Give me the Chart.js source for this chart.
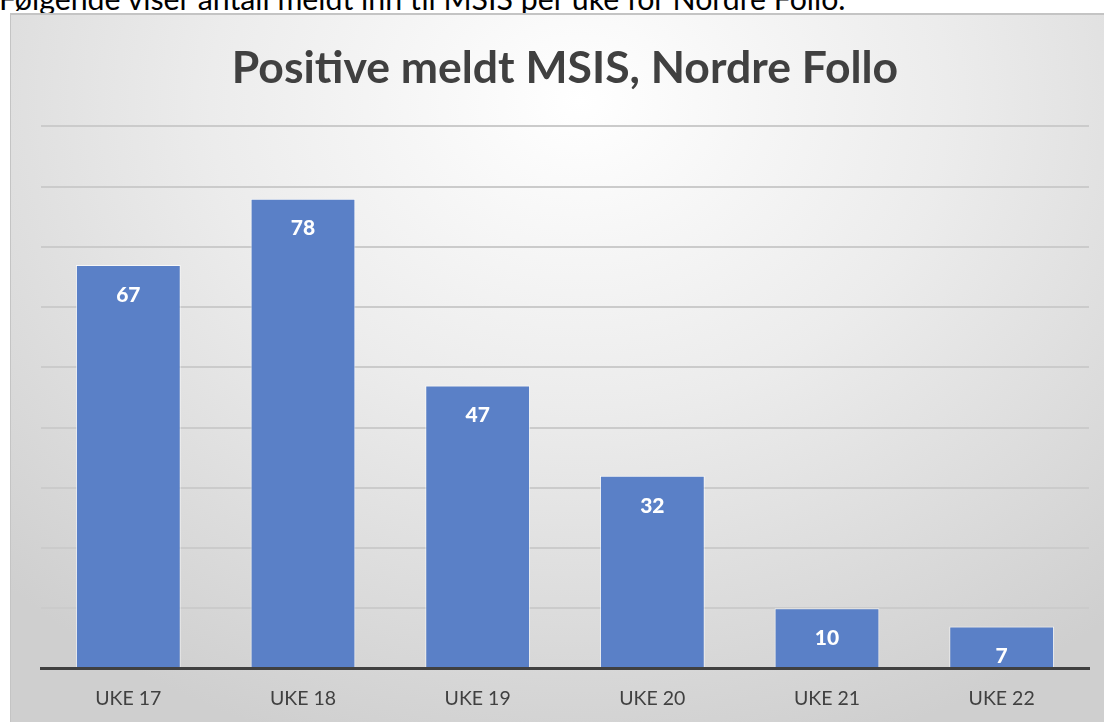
<!DOCTYPE html>
<html>
<head>
<meta charset="utf-8">
<script src="https://cdn.jsdelivr.net/npm/chart.js@4/dist/chart.umd.min.js"></script>
<style>
  html, body { margin: 0; padding: 0; background: #fff; overflow: hidden; }
  #caption {
    position: absolute; left: -1px; top: -17px;
    font-family: Lato, "Open Sans", sans-serif; font-size: 30.3px; line-height: 30px;
    color: #000; white-space: nowrap;
  }
  #box {
    position: absolute; left: 10px; top: 13px; width: 1094px; height: 717px;
    border-top: 2px solid #c4c4c4; border-left: 1px solid #c4c4c4; box-sizing: border-box;
    background: radial-gradient(ellipse 75% 95% at 52% 12%, #ffffff 0%, #ececec 45%, #cfcfcf 100%);
  }
  #wrap { position: absolute; left: 0; top: 0; width: 1093px; height: 713px; }
</style>
</head>
<body>
<div id="caption">Følgende viser antall meldt inn til MSIS per uke for Nordre Follo.</div>
<div id="box"><div id="wrap"><canvas id="myChart"></canvas></div></div>
<script>
const weeks = ['UKE 17', 'UKE 18', 'UKE 19', 'UKE 20', 'UKE 21', 'UKE 22'];
const positives = [67, 78, 47, 32, 10, 7];
const chartTitle = 'Positive meldt MSIS, Nordre Follo';

const fontFamily = 'Lato, "Open Sans", sans-serif';

// draw the number inside the top of each bar
const barLabels = {
  id: 'barLabels',
  afterDatasetsDraw(chart) {
    const ctx = chart.ctx;
    const meta = chart.getDatasetMeta(0);
    ctx.save();
    ctx.fillStyle = '#ffffff';
    ctx.font = '900 21px ' + fontFamily;
    ctx.textAlign = 'center';
    ctx.textBaseline = 'middle';
    meta.data.forEach((bar, i) => {
      ctx.fillText(positives[i], bar.x, bar.y + 30);
    });
    ctx.restore();
  }
};

const ctx = document.getElementById('myChart').getContext('2d');

new Chart(ctx, {
  type: 'bar',
  data: {
    labels: weeks,
    datasets: [
      {
        label: 'Positive',
        data: positives,
        backgroundColor: '#5a80c7',
        borderColor: 'rgba(255,255,255,0.7)',
        borderWidth: 1,
        barPercentage: 0.6,
        categoryPercentage: 1,
      },
    ],
  },
  options: {
    responsive: true,
    maintainAspectRatio: false,
    animation: false,
    layout: {
      padding: { left: 30, right: 15, top: 0, bottom: 0 },
    },
    scales: {
      y: {
        min: 0,
        max: 90,
        ticks: { display: false, stepSize: 10 },
        border: { display: false },
        grid: {
          drawTicks: false,
          color: (c) => c.tick && c.tick.value === 0 ? '#404040' : '#cbcbcb',
          lineWidth: (c) => c.tick && c.tick.value === 0 ? 3 : 2,
        },
      },
      x: {
        border: { display: true, color: '#404040', width: 3 },
        grid: { display: false, drawTicks: false },
        ticks: {
          color: '#404040',
          padding: 18,
          font: { family: fontFamily, size: 19.5 },
        },
      },
    },
    plugins: {
      legend: { display: false },
      tooltip: { enabled: false },
      title: {
        display: true,
        text: chartTitle,
        color: '#404040',
        padding: { top: 27, bottom: 31 },
        font: { family: fontFamily, size: 44.5, weight: 'bold' },
      },
    },
  },
  plugins: [barLabels],
});
</script>
</body>
</html>
